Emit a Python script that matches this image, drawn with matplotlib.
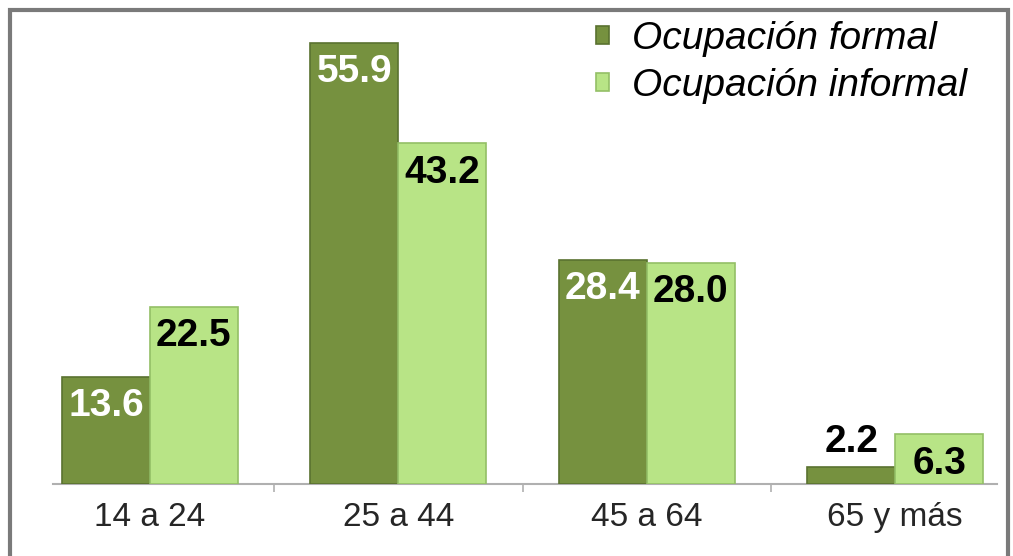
import matplotlib
matplotlib.use("Agg")
import matplotlib.pyplot as plt
from matplotlib.patches import Rectangle
import numpy as np

plt.rcParams["font.family"] = ["Liberation Sans", "DejaVu Sans"]

# data
categories = ["14 a 24", "25 a 44", "45 a 64", "65 y más"]
formal = [13.6, 55.9, 28.4, 2.2]
informal = [22.5, 43.2, 28.0, 6.3]
series_names = ["Ocupación formal", "Ocupación informal"]

DARK = "#76913f"
DARK_EDGE = "#5a7230"
LIGHT = "#b8e486"
LIGHT_EDGE = "#93bf66"

W, H = 1013, 556
fig = plt.figure(figsize=(W / 100, H / 100), dpi=100)
# axes placed in pixel terms: baseline y=484, left x=53, right x=997
ax = fig.add_axes([53 / W, (H - 484) / H, 944 / W, 473 / H])

x = np.arange(len(categories))
bw = 0.354
b1 = ax.bar(x - bw / 2, formal, bw, color=DARK, edgecolor=DARK_EDGE, lw=1.2,
            label=series_names[0], zorder=3)
b2 = ax.bar(x + bw / 2, informal, bw, color=LIGHT, edgecolor=LIGHT_EDGE, lw=1.2,
            label=series_names[1], zorder=3)

ax.set_xlim(-0.39, 3.41)
ax.set_ylim(0, 60)

# value labels: inside the top of the bar, above it when the bar is too short
for bars, txtcol in ((b1, "white"), (b2, "black")):
    for rect in bars:
        v = rect.get_height()
        cx = rect.get_x() + rect.get_width() / 2
        if v < 5:
            off, col = 18, "black"
        else:
            off, col = -21, txtcol
        ax.annotate(f"{v:.1f}", (cx, v), xytext=(0, off), textcoords="offset points",
                    ha="center", va="center", fontsize=28, fontweight="bold",
                    color=col, zorder=4)

for s in ("left", "top", "right"):
    ax.spines[s].set_visible(False)
ax.spines["bottom"].set_color("#b0b0b0")
ax.spines["bottom"].set_linewidth(1.5)
ax.set_yticks([])
ax.set_xticks(x)
ax.set_xticklabels(categories, fontsize=24, color="#262626")
ax.tick_params(axis="x", which="major", length=0, pad=13)
ax.set_xticks([0.5, 1.5, 2.5], minor=True)
ax.tick_params(axis="x", which="minor", length=6, color="#b0b0b0", width=1.2)

leg = ax.legend(loc="upper left", bbox_to_anchor=(580 / W, 1 - 5 / H),
                bbox_transform=fig.transFigure, frameon=False,
                prop={"style": "italic", "size": 28},
                handlelength=0.34, handleheight=0.34, handletextpad=0.6,
                labelspacing=0.3, borderaxespad=0)

# grey frame around the chart
fig.patches.append(Rectangle((10 / W, -0.02), 998 / W, 1 - 10 / H + 0.02,
                             transform=fig.transFigure, fill=False,
                             edgecolor="#7a7a7a", lw=3))

fig.savefig("out.png", dpi=100)
